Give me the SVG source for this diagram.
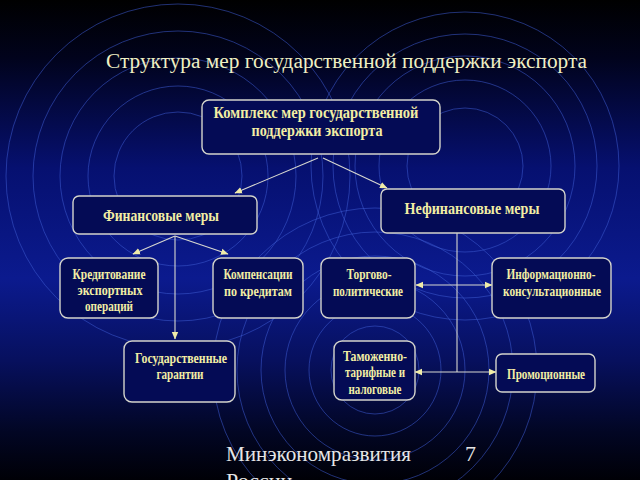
<svg xmlns="http://www.w3.org/2000/svg" width="640" height="480" viewBox="0 0 640 480">
<defs>
<linearGradient id="bg" x1="0" y1="0" x2="0" y2="1">
<stop offset="0" stop-color="#000000"/>
<stop offset="0.12" stop-color="#01031c"/>
<stop offset="0.35" stop-color="#061070"/>
<stop offset="0.58" stop-color="#0b1a8e"/>
<stop offset="0.75" stop-color="#07105e"/>
<stop offset="0.9" stop-color="#020624"/>
<stop offset="1" stop-color="#000006"/>
</linearGradient>
<marker id="ah" markerWidth="8" markerHeight="8" refX="7" refY="4" orient="auto-start-reverse" markerUnits="userSpaceOnUse">
<path d="M0,0.8 L7.5,4 L0,7.2 Z" fill="#f0eca8"/>
</marker>
</defs>
<style>
.ring{fill:none;stroke:#3c5ad0;stroke-width:1;opacity:0.55}
.box{fill:#040b55;stroke:#d4d4cc;stroke-width:1.4}
.bt{font-family:"Liberation Serif","Times New Roman",serif;font-weight:bold;fill:#f2eea4;text-anchor:middle;font-size:15px}
.bt2{font-family:"Liberation Serif","Times New Roman",serif;font-weight:bold;fill:#f2eea4;text-anchor:middle;font-size:17px}
.con{stroke:#d8d8d0;stroke-width:1.1;fill:none}
.ttl{font-family:"Liberation Serif","Times New Roman",serif;fill:#f0f0c4;font-size:20px}
.ft{font-family:"Liberation Serif","Times New Roman",serif;fill:#e6e6e6;font-size:22px}
</style>
<rect x="0" y="0" width="640" height="480" fill="url(#bg)"/>
<g id="rings">
<circle class="ring" cx="178" cy="176" r="64"/>
<circle class="ring" cx="178" cy="176" r="90"/>
<circle class="ring" cx="178" cy="176" r="118"/>
<circle class="ring" cx="178" cy="176" r="145"/>
<circle class="ring" cx="178" cy="176" r="172"/>
<circle class="ring" cx="465" cy="166" r="58"/>
<circle class="ring" cx="465" cy="166" r="86"/>
<circle class="ring" cx="465" cy="166" r="110"/>
<circle class="ring" cx="465" cy="166" r="132"/>
<circle class="ring" cx="465" cy="166" r="154"/>
<circle class="ring" cx="375" cy="370" r="44"/>
<circle class="ring" cx="375" cy="370" r="66"/>
<circle class="ring" cx="375" cy="370" r="90"/>
<circle class="ring" cx="375" cy="370" r="114"/>
<circle class="ring" cx="375" cy="370" r="138"/>
<circle class="ring" cx="375" cy="370" r="162"/>
</g>
<text class="ttl" x="106" y="68" textLength="481" lengthAdjust="spacingAndGlyphs">Структура мер государственной поддержки экспорта</text>
<g id="connectors">
<line class="con" x1="318" y1="158" x2="235" y2="193" marker-end="url(#ah)"/>
<line class="con" x1="323" y1="158" x2="387" y2="188" marker-end="url(#ah)"/>
<line class="con" x1="175" y1="236" x2="133" y2="254" marker-end="url(#ah)"/>
<line class="con" x1="175" y1="236" x2="228" y2="254" marker-end="url(#ah)"/>
<line class="con" x1="175" y1="236" x2="175" y2="339" marker-end="url(#ah)"/>
<line class="con" x1="457" y1="233" x2="457" y2="372"/>
<line class="con" x1="416" y1="285" x2="492" y2="285" marker-start="url(#ah)" marker-end="url(#ah)"/>
<line class="con" x1="415" y1="372" x2="496" y2="372" marker-start="url(#ah)" marker-end="url(#ah)"/>
</g>
<g id="n-complex">
<rect class="box" x="202" y="100" width="238" height="54" rx="7"/>
<text class="bt2" x="316" y="118" textLength="205" lengthAdjust="spacingAndGlyphs">Комплекс мер государственной</text>
<text class="bt2" x="317" y="136" textLength="131" lengthAdjust="spacingAndGlyphs">поддержки экспорта</text>
</g>
<g id="n-fin">
<rect class="box" x="73" y="196" width="184" height="38" rx="6"/>
<text class="bt2" x="161" y="221" textLength="116" lengthAdjust="spacingAndGlyphs">Финансовые меры</text>
</g>
<g id="n-nonfin">
<rect class="box" x="381" y="189" width="184" height="44" rx="6"/>
<text class="bt2" x="472" y="214" textLength="135" lengthAdjust="spacingAndGlyphs">Нефинансовые меры</text>
</g>
<g id="n-credit">
<rect class="box" x="60" y="258" width="98" height="60" rx="8"/>
<text class="bt" x="109" y="279" textLength="73" lengthAdjust="spacingAndGlyphs">Кредитование</text>
<text class="bt" x="110" y="295" textLength="65" lengthAdjust="spacingAndGlyphs">экспортных</text>
<text class="bt" x="109" y="311" textLength="48" lengthAdjust="spacingAndGlyphs">операций</text>
</g>
<g id="n-comp">
<rect class="box" x="213" y="258" width="90" height="60" rx="8"/>
<text class="bt" x="258" y="279" textLength="69" lengthAdjust="spacingAndGlyphs">Компенсации</text>
<text class="bt" x="258" y="296" textLength="68" lengthAdjust="spacingAndGlyphs">по кредитам</text>
</g>
<g id="n-guar">
<rect class="box" x="124" y="341" width="111" height="61" rx="8"/>
<text class="bt" x="181" y="363" textLength="92" lengthAdjust="spacingAndGlyphs">Государственные</text>
<text class="bt" x="180" y="379" textLength="47" lengthAdjust="spacingAndGlyphs">гарантии</text>
</g>
<g id="n-trade">
<rect class="box" x="321" y="258" width="94" height="60" rx="8"/>
<text class="bt" x="369" y="279" textLength="45" lengthAdjust="spacingAndGlyphs">Торгово-</text>
<text class="bt" x="368" y="296" textLength="70" lengthAdjust="spacingAndGlyphs">политические</text>
</g>
<g id="n-info">
<rect class="box" x="492" y="258" width="119" height="60" rx="8"/>
<text class="bt" x="551" y="279" textLength="89" lengthAdjust="spacingAndGlyphs">Информационно-</text>
<text class="bt" x="552" y="296" textLength="98" lengthAdjust="spacingAndGlyphs">консультационные</text>
</g>
<g id="n-customs">
<rect class="box" x="334" y="341" width="81" height="59" rx="8"/>
<text class="bt" x="375" y="361" textLength="64" lengthAdjust="spacingAndGlyphs">Таможенно-</text>
<text class="bt" x="375" y="377" textLength="60" lengthAdjust="spacingAndGlyphs">тарифные и</text>
<text class="bt" x="375" y="394" textLength="53" lengthAdjust="spacingAndGlyphs">налоговые</text>
</g>
<g id="n-promo">
<rect class="box" x="496" y="354" width="99" height="38" rx="6"/>
<text class="bt" x="546" y="379" textLength="78" lengthAdjust="spacingAndGlyphs">Промоционные</text>
</g>
<g id="footer">
<text class="ft" x="226" y="461" textLength="185" lengthAdjust="spacingAndGlyphs">Минэкономразвития</text>
<text class="ft" x="465" y="461">7</text>
<text class="ft" x="226" y="488">России</text>
</g>
</svg>
